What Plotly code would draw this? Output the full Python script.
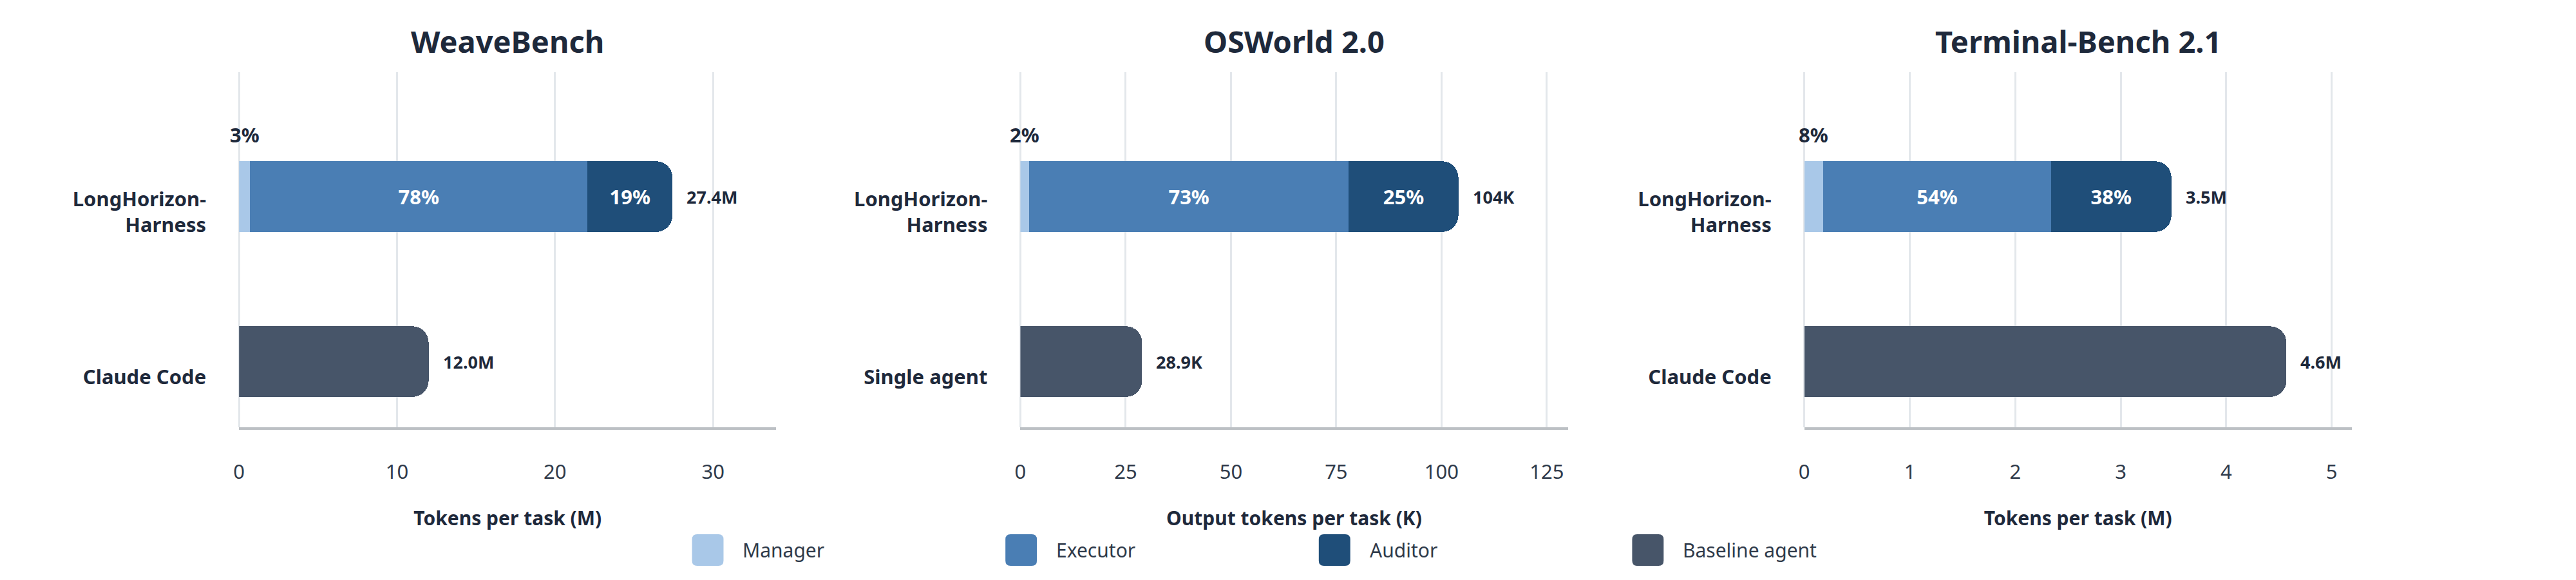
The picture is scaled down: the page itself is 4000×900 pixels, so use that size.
import plotly.graph_objects as go

# ---------------- data ----------------
benchmarks = ["WeaveBench", "OSWorld 2.0", "Terminal-Bench 2.1"]
harness_label = "LongHorizon-<br>Harness"
baseline_labels = ["Claude Code", "Single agent", "Claude Code"]

manager_vals = [0.69, 2.04, 0.18]
executor_vals = [21.37, 75.96, 2.16]
auditor_vals = [5.37, 26.0, 1.14]
baseline_vals = [12.0, 28.9, 4.57]

manager_pct = ["3%", "2%", "8%"]
executor_pct = ["78%", "73%", "54%"]
auditor_pct = ["19%", "25%", "38%"]
harness_totals = ["27.4M", "104K", "3.5M"]
baseline_totals = ["12.0M", "28.9K", "4.6M"]

axis_titles = ["Tokens per task (M)", "Output tokens per task (K)", "Tokens per task (M)"]
x_max = [34.0, 130.0, 5.19]
x_dtick = [10, 25, 1]

series_names = ["Manager", "Executor", "Auditor", "Baseline agent"]
series_colors = ["#a9c8e8", "#4a7eb4", "#1f4e79", "#475569"]

# ---------------- layout constants ----------------
W, H = 4000, 900
FONT = "Noto Sans"
DARK = "#1e293b"
MID = "#2f3a4a"
x_domains_px = [(363, 1199), (1579, 2431), (2799, 3651)]
y_top_px, y_bot_px = 112, 663


def px_x(x):
    return x / W


def px_y(y):
    return 1 - y / H


fig = go.Figure()
annotations = []
shapes = []

for i in range(3):
    xa = "x" if i == 0 else f"x{i + 1}"
    ya = "y" if i == 0 else f"y{i + 1}"
    cats = [harness_label, baseline_labels[i]]

    seg_vals = [manager_vals[i], executor_vals[i], auditor_vals[i]]
    seg_text = ["", executor_pct[i], auditor_pct[i]]
    for k in range(3):
        fig.add_trace(go.Bar(
            orientation="h", y=[harness_label], x=[seg_vals[k]],
            name=series_names[k], marker=dict(color=series_colors[k], line=dict(width=0)),
            text=[seg_text[k]], textposition="inside", insidetextanchor="middle",
            textangle=0, constraintext="none",
            textfont=dict(family=FONT, size=31, color="white", weight=700),
            xaxis=xa, yaxis=ya, showlegend=False, hoverinfo="skip",
        ))
    fig.add_trace(go.Bar(
        orientation="h", y=[baseline_labels[i]], x=[baseline_vals[i]],
        name=series_names[3], marker=dict(color=series_colors[3], line=dict(width=0)),
        xaxis=xa, yaxis=ya, showlegend=False, hoverinfo="skip",
    ))

    d0, d1 = x_domains_px[i]
    axis_common = dict(
        domain=[px_x(d0), px_x(d1)], anchor=ya, range=[0, x_max[i]], dtick=x_dtick[i],
        showgrid=True, gridcolor="#e3e7eb", gridwidth=3,
        zeroline=True, zerolinecolor="#e3e7eb", zerolinewidth=3,
        showline=True, linecolor="#bcc0c4", linewidth=4,
        ticks="", ticklabelstandoff=39,
        tickfont=dict(family=FONT, size=31, color=MID),
        title=dict(text=axis_titles[i], standoff=44,
                   font=dict(family=FONT, size=30, color=DARK, weight=700)),
        fixedrange=True,
    )
    fig.update_layout(**{("xaxis" if i == 0 else f"xaxis{i + 1}"): axis_common})
    fig.update_layout(**{("yaxis" if i == 0 else f"yaxis{i + 1}"): dict(
        domain=[px_y(y_bot_px), px_y(y_top_px)], anchor=xa,
        type="category", categoryorder="array", categoryarray=cats,
        range=[1.398, -0.754], showgrid=False, zeroline=False, showline=False,
        ticks="", ticklabelstandoff=50, ticklabelshift=-24,
        tickfont=dict(family=FONT, size=31, color=DARK, weight=700),
        fixedrange=True,
    )})

    # panel title
    annotations.append(dict(
        text=benchmarks[i], xref=f"{xa} domain", yref="paper", x=0.5, y=px_y(64),
        xanchor="center", yanchor="middle", showarrow=False,
        font=dict(family=FONT, size=47, color=DARK, weight=700),
    ))
    # small manager share label above the bar
    annotations.append(dict(
        text=manager_pct[i], xref=xa, yref=ya, x=manager_vals[i] / 2, y=harness_label,
        yshift=96, showarrow=False, xanchor="center", yanchor="middle",
        font=dict(family=FONT, size=31, color=DARK, weight=700),
    ))
    # totals
    harness_sum = manager_vals[i] + executor_vals[i] + auditor_vals[i]
    annotations.append(dict(
        text=harness_totals[i], xref=xa, yref=ya, x=harness_sum, y=harness_label,
        xshift=20, showarrow=False, xanchor="left", yanchor="middle",
        font=dict(family=FONT, size=27, color=DARK, weight=700),
    ))
    annotations.append(dict(
        text=baseline_totals[i], xref=xa, yref=ya, x=baseline_vals[i], y=baseline_labels[i],
        xshift=20, showarrow=False, xanchor="left", yanchor="middle",
        font=dict(family=FONT, size=27, color=DARK, weight=700),
    ))

# ---------------- custom legend ----------------
legend_x0, legend_step = 1068, 487.7
sw, sh, sr = 49, 49, 8
sy0 = 829


def rrect_path(x0, y0, x1, y1, r):
    X, Y = px_x, px_y
    return (f"M{X(x0 + r)},{Y(y0)} L{X(x1 - r)},{Y(y0)} Q{X(x1)},{Y(y0)} {X(x1)},{Y(y0 + r)} "
            f"L{X(x1)},{Y(y1 - r)} Q{X(x1)},{Y(y1)} {X(x1 - r)},{Y(y1)} "
            f"L{X(x0 + r)},{Y(y1)} Q{X(x0)},{Y(y1)} {X(x0)},{Y(y1 - r)} "
            f"L{X(x0)},{Y(y0 + r)} Q{X(x0)},{Y(y0)} {X(x0 + r)},{Y(y0)} Z")


for k, (name, col) in enumerate(zip(series_names, series_colors)):
    lx = legend_x0 + k * legend_step
    shapes.append(dict(type="path", xref="paper", yref="paper",
                       path=rrect_path(lx, sy0, lx + sw, sy0 + sh, sr),
                       fillcolor=col, line=dict(width=0)))
    annotations.append(dict(
        text=name, xref="paper", yref="paper", x=px_x(lx + sw + 28), y=px_y(sy0 + sh / 2),
        xanchor="left", yanchor="middle", showarrow=False,
        font=dict(family=FONT, size=30, color=MID),
    ))

fig.update_layout(
    width=W, height=H, autosize=False,
    margin=dict(l=0, r=0, t=0, b=0),
    barmode="stack", bargap=0.572, barcornerradius=25,
    paper_bgcolor="white", plot_bgcolor="white",
    font=dict(family=FONT, color=DARK),
    showlegend=False,
    annotations=annotations, shapes=shapes,
)

fig.write_html("out.html", config={"displayModeBar": False},
               post_script="document.body.style.margin='0';")
